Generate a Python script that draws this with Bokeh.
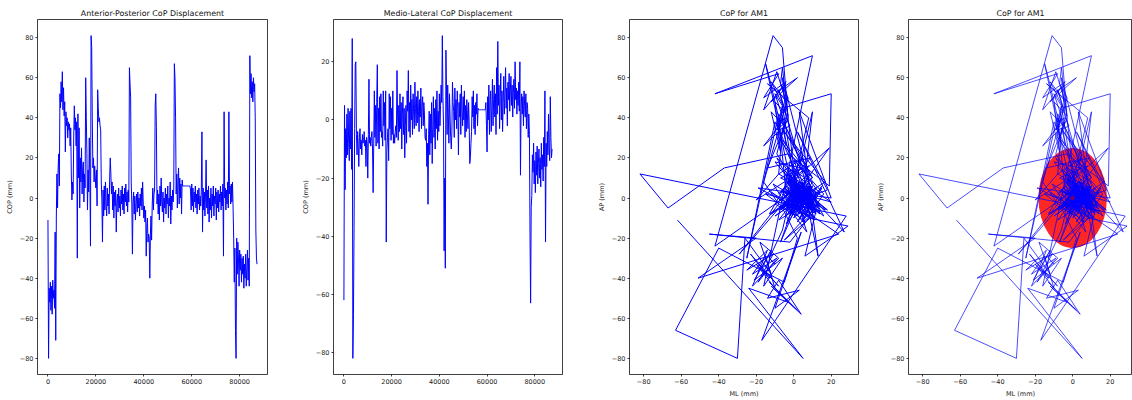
import numpy as np
from bokeh.plotting import figure
from bokeh.layouts import row
from bokeh.models import FixedTicker, Range1d, CustomJSTickFormatter
from bokeh.embed import file_html
from bokeh.resources import INLINE

# ---- data (one value every 250 samples) ----
sample_step = 250

ap_mm = [
    -11, -80, -45, -52, -42, -56, -44, -58, -41, -50,
    -46, -55, -17, -71, -9, 12, -5, 15, 22, 6,
    52, 45, 58, 48, 63, 44, 55, 41, 48, 23,
    43, 36, 40, 30, 38, 34, 37, 26, 35, 12,
    -1, 8, 2, 30, 46, 34, 40, 26, 38, -30,
    42, 10, 35, -5, 20, 8, 25, 2, 15, 18,
    -2, 12, 5, 60, 40, 22, -6, 14, 3, 30,
    10, -24, 81, 75, 40, 15, 20, 8, 16, 10,
    5, 14, -4, 54, 45, 38, 40, 36, 34, 8,
    -1, -22, 4, -9, 6, -6, 8, -3, -9, 5,
    -4, 2, -8, 10, 20, 12, 2, 8, -6, 6,
    -10, 3, -4, 4, -17, -2, 2, -7, 5, -5,
    1, -9, 4, -3, 6, -6, 2, -8, 5, -2,
    7, -4, 3, -7, 4, -2, 65, 57, 50, 8,
    -3, -28, -2, 3, -8, 1, -11, -3, 2, -7,
    3, -5, 0, -9, 2, -4, 5, -6, 8, -2,
    -10, -4, -12, -6, -29, -14, -10, -22, -18, -20,
    -40, -18, -9, -21, -4, 5, -6, 2, 4, 46,
    52, 35, -3, 4, -8, 2, -11, 6, -4, 10,
    -2, -7, 3, -12, 0, -5, 5, -8, 2, -3,
    6, -10, 0, -4, 8, -13, 1, -6, 4, -2,
    5, 67, 60, 40, 2, 12, -5, 8, 15, -3,
    10, 0, 7, -8, 9, 6, 6, 6, 6, 6,
    6, 6, 6, 6, 6, 6, 6, 6, 4, -6,
    7, -4, 5, -7, 3, -2, 6, -5, 2, -8,
    4, -3, 5, -6, 1, -4, 4, 33, -17, 5,
    -6, 3, -9, 2, 19, -5, 4, -8, 6, -12,
    0, -6, 5, -10, 2, -4, 6, -9, 1, -3,
    5, -11, 3, -5, 4, -7, 2, -2, 6, -6,
    3, -4, 7, -29, 43, 0, 5, -6, 4, -3,
    8, -5, 43, 2, 6, -3, 7, -2, 8, -5,
    -20, -42, -25, -66, -80, -20, -38, -22, -30, -44,
    -26, -36, -28, -42, -30, -38, -29, -45, -33, -40,
    -28, -44, -35, -26, -41, -30, -44, 71, 52, 62,
    50, 58, 48, 60, 53, 57, 40, -16, -30, -33,
]

ml_mm = [
    -62, 5, -24, -3, -13, 2, -12, 4, -8, -14,
    3, -10, 4, -17, 28, -82, -67, -37, -3, 19,
    20, -5, -12, -4, -9, -16, -6, -3, -10, -7,
    -12, -5, -8, -7, -4, -9, -7, -16, -6, -8,
    -20, -5, 14, -8, -6, -9, -6, -4, -10, -25,
    -8, 10, -6, 5, -9, 6, 19, -8, 4, -10,
    8, -4, 9, -6, -4, -9, 10, -2, 6, -7,
    10, -42, -11, -6, -3, -14, 9, -3, 8, -7,
    4, -5, 10, -8, -5, -8, -4, -2, -6, 17,
    1, -7, 5, -4, 9, -3, 6, -10, 2, 8,
    -5, 4, -13, -2, 5, -8, 10, 3, 17, -4,
    6, -6, 12, 0, 7, -5, 9, 2, -3, 13,
    4, -2, 8, -1, 10, 3, -4, 7, 1, 11,
    -3, 5, 8, -2, 6, 2, -6, -7, -3, -16,
    -8, -29, -5, 3, -12, 2, -8, 6, -15, -2,
    8, -6, 4, -10, 7, -3, 10, -7, 3, -4,
    9, -2, 5, 12, 6, 29, 8, -2, -45, -20,
    -51, 24, 10, -5, 12, 2, -8, 9, 1, -6,
    -10, -4, 13, 6, 3, -6, 11, 0, 7, -3,
    10, 4, -12, 6, 1, 9, -5, 12, 3, -2,
    8, 0, 10, -6, 5, -4, 7, 2, -3, 6,
    -1, -15, -13, -8, -4, 8, 1, 10, -3, 5,
    -5, 6, 2, 9, -2, 4, 3.5, 3.5, 3.5, 3.5,
    3.5, 3.5, 3.5, 3.5, 3.5, 3.5, 3.5, 3.5, 6, -2,
    -11, 8, 0, 12, -5, 6, 10, -4, 4, 14,
    -2, 7, 12, 1, 9, -5, 18, 2, 27, 5,
    12, -3, 8, 16, 0, 10, -4, 6, 15, 2,
    9, 18, 4, 11, -2, 13, 7, 16, 3, 10,
    15, 5, 12, 1, 9, 14, 4, 20, 7, 11,
    2, 10, 5, 13, 3, 20, -19, 4, 9, 2,
    8, -2, 10, 5, 1, 9, -3, 6, 4, -6,
    2, -5, -40, -63, -30, -26, -12, -18, -8, -22,
    -14, -25, -11, -19, -9, -22, -15, -10, -20, -13,
    -23, -8, -17, -12, -21, -6, -16, 10, -42, -8,
    -16, -4, -12, 2, -9, -14, 8, -6, -13, -10,
]

time_ticks = [0, 20000, 40000, 60000, 80000]
ap_ticks = [-80, -60, -40, -20, 0, 20, 40, 60, 80]
ml_ticks = [-80, -60, -40, -20, 0, 20]

ellipse_x = [0.0]
ellipse_y = [0.0]
ellipse_w = [36.5]
ellipse_h = [50.0]

titles = ["Anterior-Posterior CoP Displacement", "Medio-Lateral CoP Displacement",
          "CoP for AM1", "CoP for AM1"]

samples = np.arange(len(ap_mm)) * sample_step
ap = np.array(ap_mm, dtype=float)
ml = np.array(ml_mm, dtype=float)


def padded(lo, hi, frac=0.05):
    m = (hi - lo) * frac
    return lo - m, hi + m


t_rng = padded(samples.min(), samples.max())
ap_rng = padded(ap.min(), ap.max())
ml_rng = padded(ml.min(), ml.max())

FONT = "DejaVu Sans"
fmt = CustomJSTickFormatter(code="return (tick < 0 ? '\u2212' : '') + Math.abs(tick).toString();")


def make(width, left, right, title, xr, yr, xticks, yticks, xlabel=None, ylabel=None):
    p = figure(width=width, height=400, x_range=Range1d(*xr), y_range=Range1d(*yr),
               output_backend="svg", toolbar_location=None,
               min_border_left=left, min_border_right=right,
               min_border_top=19, min_border_bottom=21, title=title)
    p.background_fill_color = "white"
    p.border_fill_color = "white"
    p.outline_line_color = "black"
    p.outline_line_alpha = 0.75
    p.outline_line_width = 1
    p.grid.visible = False
    p.title.text_font = FONT
    p.title.text_font_size = "7.9px"
    p.title.text_font_style = "normal"
    p.title.text_color = "#111111"
    p.title.align = "center"
    p.title.standoff = 3
    for ax, ticks in ((p.xaxis, xticks), (p.yaxis, yticks)):
        ax.ticker = FixedTicker(ticks=ticks)
        ax.formatter = fmt
        ax.minor_tick_line_color = None
        ax.axis_line_color = None
        ax.major_tick_in = 0
        ax.major_tick_out = 2
        ax.major_tick_line_color = "black"
        ax.major_tick_line_alpha = 0.75
        ax.major_label_text_font = FONT
        ax.major_label_text_font_size = "6.5px"
        ax.major_label_text_color = "#222222"
        ax.major_label_standoff = 2
        ax.axis_label_text_font = FONT
        ax.axis_label_text_font_size = "6.5px"
        ax.axis_label_text_font_style = "normal"
        ax.axis_label_text_color = "#222222"
        ax.axis_label_standoff = 3
    if xlabel:
        p.xaxis.axis_label = xlabel
    if ylabel:
        p.yaxis.axis_label = ylabel
    return p


p1 = make(287, 37, 20, titles[0], t_rng, ap_rng, time_ticks, ap_ticks, ylabel="COP (mm)")
p1.line(samples, ap, line_color="blue", line_width=1)

p2 = make(295, 46, 20, titles[1], t_rng, ml_rng, time_ticks, ml_ticks, ylabel="COP (mm)")
p2.line(samples, ml, line_color="blue", line_width=1)

p3 = make(286, 47, 10, titles[2], ml_rng, ap_rng, ml_ticks, ap_ticks, xlabel="ML (mm)", ylabel="AP (mm)")
p3.line(ml, ap, line_color="blue", line_width=1)

# last panel is cut by the window's right edge: same scale, shorter frame
full_frame, cut_frame = 229, 224
ml_cut = (ml_rng[0], ml_rng[0] + (ml_rng[1] - ml_rng[0]) * cut_frame / full_frame)
p4 = make(264, 40, 0, titles[3], ml_cut, ap_rng, ml_ticks, ap_ticks, xlabel="ML (mm)", ylabel="AP (mm)")
p4.ellipse(x=ellipse_x, y=ellipse_y, width=ellipse_w, height=ellipse_h,
           fill_color="red", fill_alpha=0.85, line_color=None)
p4.line(ml, ap, line_color="blue", line_width=1, line_alpha=0.7)
p4.scatter(x=ellipse_x, y=ellipse_y, size=4, fill_color="#7a0050", line_color=None)

layout = row(p1, p2, p3, p4)
open("out.html", "w").write(file_html(layout, INLINE))
